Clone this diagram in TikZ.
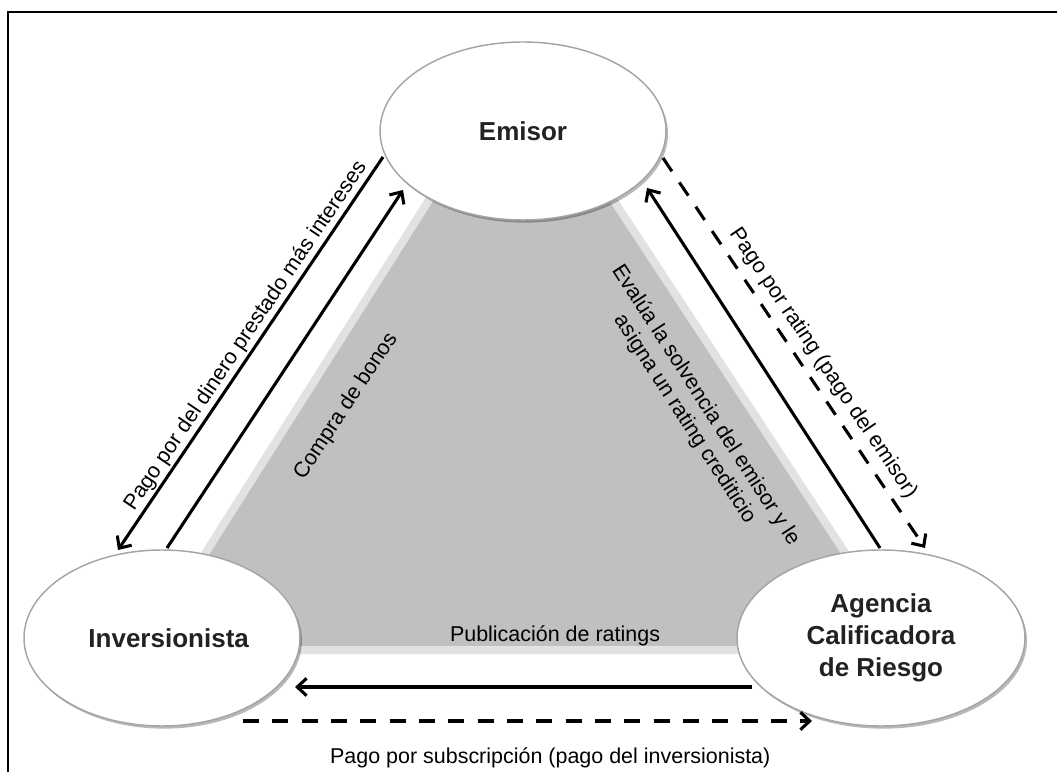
\documentclass[tikz,border=0pt]{standalone}
\usepackage{fontspec}
\setmainfont{Liberation Sans}
\usetikzlibrary{arrows.meta,shadows,calc,shapes.geometric}
\definecolor{grayfill}{RGB}{192,192,192}
\definecolor{bandgray}{RGB}{226,226,226}
\definecolor{bordergray}{RGB}{165,165,165}
\definecolor{textdark}{RGB}{34,34,34}
\begin{document}
\begin{tikzpicture}[x=0.75pt,y=0.75pt,
  actor/.style={ellipse, draw=bordergray, line width=1.1pt, fill=white, inner sep=0pt,
    font=\fontsize{19.5}{24}\selectfont\bfseries, text=textdark, align=center,
    drop shadow={shadow xshift=1.5pt, shadow yshift=-2pt, opacity=0.28, fill=black}},
  flow/.style={line width=2.3pt, -{Straight Barb[length=7pt,width=13pt]}},
  dashflow/.style={flow, dash pattern=on 12pt off 10pt},
  lbl/.style={font=\fontsize{16.1}{18.75}\selectfont, inner sep=0pt, text=black},
]
\useasboundingbox (0,0) rectangle (1057,772);
% frame
\draw[line width=1.5pt] (8,0) -- (8,760) -- (1057,760);
% gray region
\fill[fill=grayfill, draw=bandgray, line width=6pt, line join=round]
  (467,632) -- (574,632) -- (909,122) -- (144,122) -- cycle;
% actors
\node[actor, minimum width=214.5pt, minimum height=133.5pt] (emi) at (523,641) {Emisor};
\node[actor, minimum width=207pt, minimum height=132pt] (inv) at (162,134) {\hspace*{10pt}Inversionista};
\node[actor, minimum width=216pt, minimum height=132pt] (age) at (881,134) {Agencia\\Calificadora\\de Riesgo};
% connectors
\draw[flow] ($(emi)+(-140,-26)$) -- ($(inv)+(-44,88)$)
  node[lbl, pos=0.475, sloped, above=1.5pt] {Pago por del dinero prestado más intereses};
\draw[flow] ($(inv)+(5,90)$) -- ($(emi)+(-120,-59)$)
  node[lbl, pos=0.506, sloped, below=45pt] {Compra de bonos};
\draw[flow] ($(age)+(-1,90)$) -- ($(emi)+(124,-57)$)
  node[lbl, pos=0.5, sloped, below=43pt, align=center] {Evalúa la solvencia del emisor y le\\asigna un rating crediticio};
\draw[dashflow] ($(emi)+(140,-27)$) -- ($(age)+(44,90)$)
  node[lbl, pos=0.553, sloped, above=5pt] {Pago por rating (pago del emisor)};
\draw[flow] ($(age)+(-129,-49)$) -- ($(inv)+(133,-49)$)
  node[lbl, pos=0.431, above=30pt] {Publicación de ratings};
\draw[dashflow] ($(inv)+(81,-83)$) -- ($(age)+(-69,-83)$)
  node[lbl, pos=0.54, below=19pt] {Pago por subscripción (pago del inversionista)};
\end{tikzpicture}
\end{document}
